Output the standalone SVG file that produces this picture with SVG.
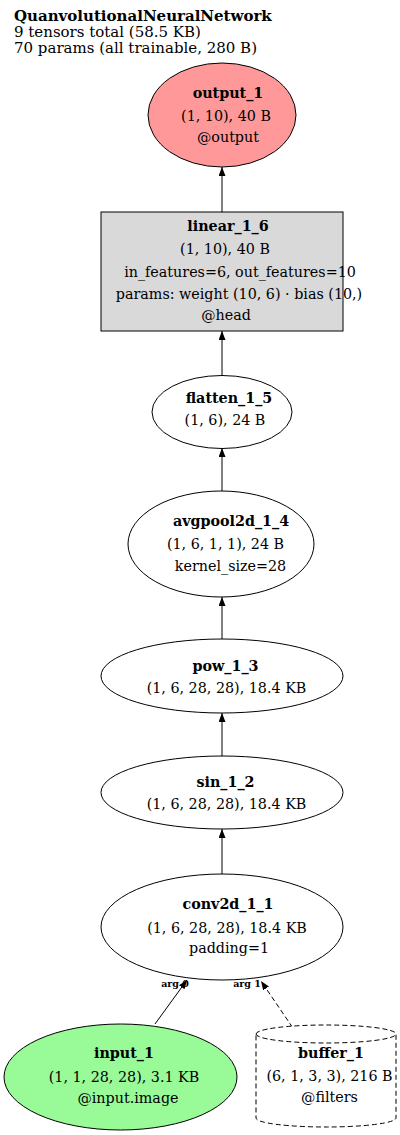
<svg xmlns="http://www.w3.org/2000/svg" width="400" height="1135" viewBox="0 0 400 1135">
<defs>
<style>
text{font-family:"DejaVu Serif","Liberation Serif",serif;font-size:14.3px;fill:#000}
.t{font-size:15px}
.b{font-weight:bold}
.m{text-anchor:middle}
.shape{stroke:#000;stroke-width:1}
.edge{stroke:#000;stroke-width:1;fill:none}
.lbl{font-size:9.5px;font-weight:bold;text-anchor:middle}
</style>
<marker id="arr" markerWidth="10" markerHeight="8" refX="9" refY="3.5" orient="auto" markerUnits="userSpaceOnUse">
<path d="M0,0 L9,3.5 L0,7 Z" fill="#000"/>
</marker>
</defs>
<rect width="400" height="1135" fill="#fff"/>
<g id="title">
<text x="14" y="21" class="t b">QuanvolutionalNeuralNetwork</text>
<text x="14" y="37" class="t">9 tensors total (58.5 KB)</text>
<text x="14" y="53" class="t">70 params (all trainable, 280 B)</text>
</g>
<g id="edges">
<line class="edge" x1="222" y1="212" x2="222" y2="167" marker-end="url(#arr)"/>
<line class="edge" x1="222" y1="375" x2="222" y2="331" marker-end="url(#arr)"/>
<line class="edge" x1="222" y1="491" x2="222" y2="448" marker-end="url(#arr)"/>
<line class="edge" x1="222" y1="639" x2="222" y2="597" marker-end="url(#arr)"/>
<line class="edge" x1="222" y1="756" x2="222" y2="713" marker-end="url(#arr)"/>
<line class="edge" x1="222" y1="874" x2="222" y2="829" marker-end="url(#arr)"/>
<line class="edge" x1="155" y1="1024" x2="187" y2="980" marker-end="url(#arr)"/>
<line class="edge" x1="297" y1="1034" x2="261" y2="981" stroke-dasharray="5,3" marker-end="url(#arr)"/>
<text class="lbl" x="175" y="987">arg 0</text>
<text class="lbl" x="247" y="987">arg 1</text>
</g>
<g id="output_1">
<ellipse class="shape" cx="222" cy="115" rx="74" ry="52" fill="#ff9999"/>
<text class="b m" x="228" y="98">output_1</text>
<text class="m" x="226" y="121">(1, 10), 40 B</text>
<text class="m" x="228" y="142">@output</text>
</g>
<g id="linear_1_6">
<rect class="shape" x="101" y="212" width="242" height="119" fill="#d9d9d9"/>
<text class="b m" x="228" y="231">linear_1_6</text>
<text class="m" x="225" y="254">(1, 10), 40 B</text>
<text class="m" x="240" y="277">in_features=6, out_features=10</text>
<text class="m" x="239" y="299">params: weight (10, 6) · bias (10,)</text>
<text class="m" x="226" y="320">@head</text>
</g>
<g id="flatten_1_5">
<ellipse class="shape" cx="222" cy="412" rx="70" ry="36.5" fill="#fff"/>
<text class="b m" x="229" y="403">flatten_1_5</text>
<text class="m" x="225" y="425">(1, 6), 24 B</text>
</g>
<g id="avgpool2d_1_4">
<ellipse class="shape" cx="221" cy="544" rx="93" ry="53" fill="#fff"/>
<text class="b m" x="231" y="526">avgpool2d_1_4</text>
<text class="m" x="225.5" y="549">(1, 6, 1, 1), 24 B</text>
<text class="m" x="230.5" y="571">kernel_size=28</text>
</g>
<g id="pow_1_3">
<ellipse class="shape" cx="222" cy="676" rx="121" ry="37" fill="#fff"/>
<text class="b m" x="225.5" y="671">pow_1_3</text>
<text class="m" x="226.5" y="693">(1, 6, 28, 28), 18.4 KB</text>
</g>
<g id="sin_1_2">
<ellipse class="shape" cx="222" cy="792.5" rx="121" ry="36.5" fill="#fff"/>
<text class="b m" x="225.5" y="787">sin_1_2</text>
<text class="m" x="226.5" y="809">(1, 6, 28, 28), 18.4 KB</text>
</g>
<g id="conv2d_1_1">
<ellipse class="shape" cx="222" cy="927" rx="121" ry="53" fill="#fff"/>
<text class="b m" x="228" y="909">conv2d_1_1</text>
<text class="m" x="227" y="933">(1, 6, 28, 28), 18.4 KB</text>
<text class="m" x="229" y="953">padding=1</text>
</g>
<g id="input_1">
<ellipse class="shape" cx="120.5" cy="1077" rx="116.5" ry="53" fill="#98fb98"/>
<text class="b m" x="124" y="1058">input_1</text>
<text class="m" x="124" y="1082">(1, 1, 28, 28), 3.1 KB</text>
<text class="m" x="128" y="1103">@input.image</text>
</g>
<g id="buffer_1">
<path class="shape" fill="#fff" stroke-dasharray="5,3" d="M256,1034 A70,9 0 0 1 396,1034 L396,1118 A70,9 0 0 1 256,1118 Z M256,1034 A70,9 0 0 0 396,1034"/>
<text class="b m" x="331" y="1058">buffer_1</text>
<text class="m" x="329.5" y="1081">(6, 1, 3, 3), 216 B</text>
<text class="m" x="329.5" y="1102">@filters</text>
</g>
</svg>
